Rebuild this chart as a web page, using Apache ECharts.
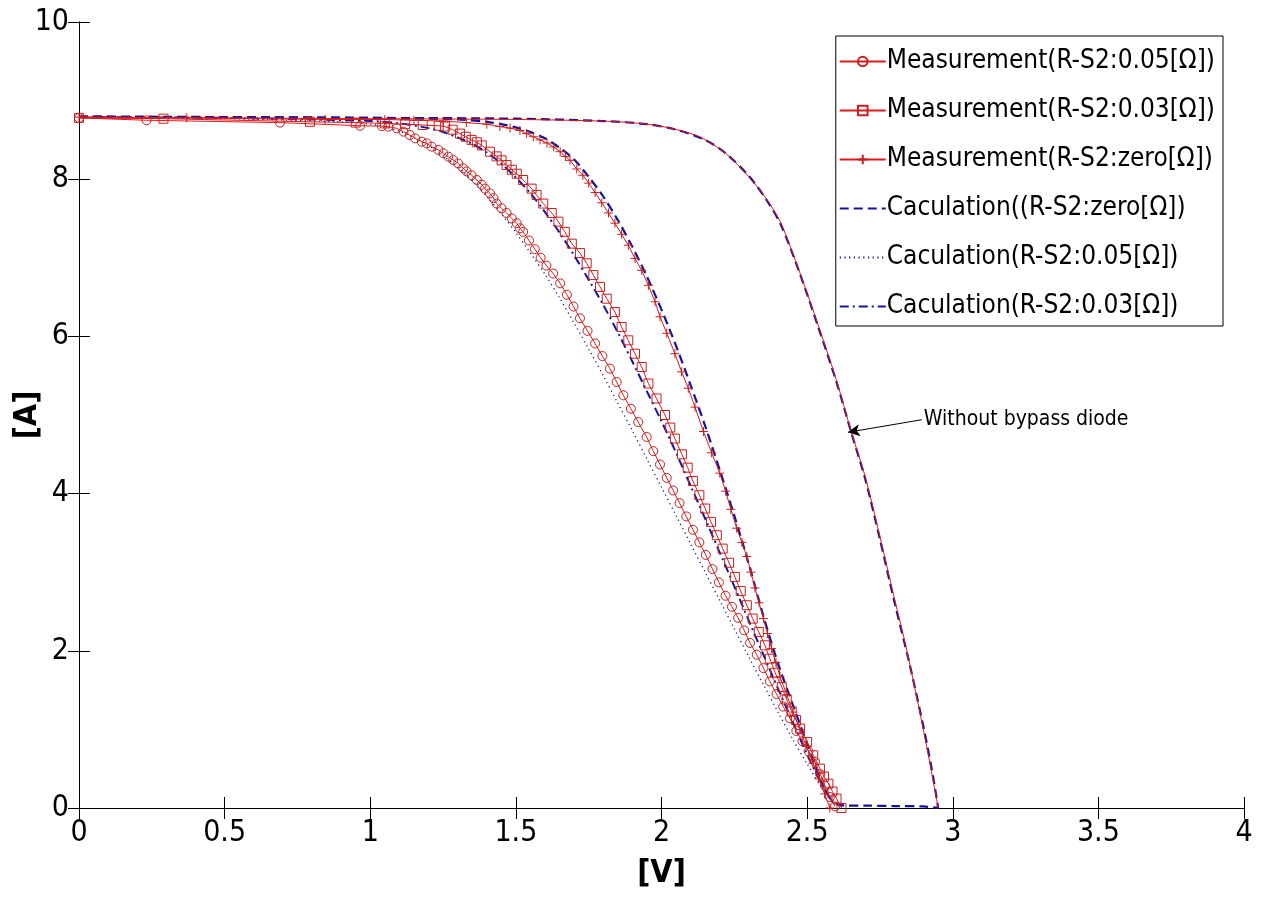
<!DOCTYPE html>
<html>
<head>
<meta charset="utf-8">
<script src="https://cdn.jsdelivr.net/npm/echarts@6/dist/echarts.min.js"></script>
<style>
html,body{margin:0;padding:0;background:#fff;}
#chart{width:1281px;height:907px;}
</style>
</head>
<body>
<div id="chart"></div>
<script>
// ---------------- data (V, A) ----------------
const seriesNames = [
  'Measurement(R-S2:0.05[Ω])',
  'Measurement(R-S2:0.03[Ω])',
  'Measurement(R-S2:zero[Ω])',
  'Caculation((R-S2:zero[Ω])',
  'Caculation(R-S2:0.05[Ω])',
  'Caculation(R-S2:0.03[Ω])'
];
const annotationText = 'Without bypass diode';

const meas005 = [[0,8.78],[0.232,8.75],[0.69,8.72],[0.965,8.68],[1.04,8.675],[1.062,8.668],[1.091,8.647],[1.114,8.605],[1.136,8.562],[1.154,8.52],[1.177,8.477],[1.194,8.456],[1.211,8.414],[1.234,8.372],[1.251,8.33],[1.268,8.287],[1.285,8.244],[1.302,8.2],[1.319,8.14],[1.331,8.1],[1.348,8.05],[1.366,7.99],[1.383,7.93],[1.394,7.88],[1.411,7.82],[1.423,7.76],[1.434,7.69],[1.451,7.63],[1.468,7.57],[1.486,7.5],[1.503,7.44],[1.514,7.375],[1.525,7.33],[1.545,7.22],[1.565,7.11],[1.585,7.0],[1.605,6.9],[1.628,6.8],[1.652,6.675],[1.675,6.53],[1.698,6.38],[1.72,6.23],[1.746,6.07],[1.772,5.91],[1.797,5.75],[1.823,5.59],[1.846,5.42],[1.869,5.25],[1.895,5.08],[1.92,4.91],[1.949,4.72],[1.972,4.54],[1.995,4.37],[2.018,4.2],[2.04,4.04],[2.062,3.88],[2.085,3.71],[2.108,3.54],[2.13,3.38],[2.152,3.22],[2.175,3.04],[2.197,2.87],[2.22,2.7],[2.242,2.56],[2.263,2.42],[2.284,2.26],[2.304,2.1],[2.327,1.95],[2.35,1.78],[2.372,1.61],[2.395,1.45],[2.418,1.29],[2.441,1.14],[2.463,0.98],[2.484,0.85],[2.505,0.72],[2.527,0.59],[2.545,0.43],[2.562,0.28],[2.578,0.14],[2.596,0.02]];

const meas003 = [[0,8.78],[0.29,8.77],[0.793,8.73],[0.95,8.72],[1.05,8.71],[1.12,8.7],[1.18,8.69],[1.235,8.68],[1.257,8.67],[1.283,8.63],[1.308,8.58],[1.328,8.54],[1.348,8.5],[1.366,8.47],[1.383,8.43],[1.411,8.35],[1.434,8.29],[1.451,8.24],[1.468,8.18],[1.486,8.12],[1.503,8.07],[1.525,7.99],[1.554,7.88],[1.571,7.8],[1.594,7.69],[1.623,7.57],[1.646,7.46],[1.668,7.33],[1.692,7.18],[1.72,7.06],[1.743,6.93],[1.766,6.78],[1.789,6.63],[1.812,6.48],[1.84,6.31],[1.863,6.12],[1.886,5.95],[1.909,5.78],[1.932,5.61],[1.955,5.4],[1.983,5.21],[2.012,5.0],[2.03,4.84],[2.046,4.7],[2.07,4.5],[2.09,4.33],[2.108,4.16],[2.13,3.98],[2.15,3.81],[2.17,3.64],[2.19,3.47],[2.21,3.3],[2.232,3.12],[2.252,2.94],[2.272,2.76],[2.293,2.58],[2.313,2.41],[2.334,2.24],[2.355,2.07],[2.372,1.9],[2.39,1.72],[2.413,1.54],[2.43,1.38],[2.447,1.23],[2.462,1.12],[2.476,1.01],[2.5,0.84],[2.521,0.67],[2.544,0.5],[2.558,0.4],[2.573,0.31],[2.587,0.21],[2.601,0.12],[2.618,0.0]];

const measZero = [[0,8.79],[0.37,8.78],[0.845,8.76],[1.05,8.76],[1.15,8.75],[1.25,8.74],[1.33,8.72],[1.4,8.7],[1.445,8.67],[1.48,8.65],[1.514,8.62],[1.537,8.58],[1.56,8.54],[1.583,8.5],[1.607,8.46],[1.63,8.41],[1.652,8.35],[1.67,8.29],[1.686,8.24],[1.709,8.13],[1.73,8.05],[1.75,7.95],[1.772,7.83],[1.795,7.7],[1.818,7.57],[1.84,7.44],[1.863,7.3],[1.886,7.16],[1.909,6.99],[1.932,6.84],[1.955,6.65],[1.978,6.44],[1.995,6.25],[2.018,6.04],[2.046,5.78],[2.069,5.55],[2.092,5.34],[2.115,5.1],[2.144,4.79],[2.172,4.52],[2.2,4.26],[2.22,4.03],[2.238,3.8],[2.258,3.56],[2.276,3.38],[2.293,3.2],[2.307,3.0],[2.321,2.8],[2.335,2.61],[2.35,2.41],[2.364,2.22],[2.378,2.03],[2.393,1.85],[2.407,1.67],[2.43,1.44],[2.452,1.22],[2.475,1.0],[2.497,0.79],[2.52,0.57],[2.54,0.37],[2.56,0.18],[2.578,0.0]];

const calcZero = [[0,8.79],[0.5,8.79],[1.0,8.78],[1.2,8.77],[1.3,8.76],[1.4,8.73],[1.45,8.7],[1.5,8.66],[1.55,8.6],[1.6,8.52],[1.65,8.4],[1.7,8.25],[1.75,8.03],[1.8,7.78],[1.85,7.48],[1.9,7.14],[1.95,6.76],[2.0,6.34],[2.05,5.88],[2.1,5.38],[2.15,4.86],[2.2,4.3],[2.25,3.72],[2.3,3.1],[2.35,2.44],[2.4,1.84],[2.45,1.32],[2.5,0.82],[2.55,0.32],[2.58,0.12],[2.6,0.06],[2.63,0.03],[2.7,0.03],[2.8,0.025],[2.9,0.02],[2.95,0]];

const calc005 = [[0,8.79],[0.5,8.77],[0.9,8.73],[1.0,8.7],[1.05,8.67],[1.1,8.61],[1.15,8.53],[1.2,8.43],[1.25,8.3],[1.3,8.15],[1.35,7.98],[1.4,7.78],[1.45,7.56],[1.5,7.32],[1.55,7.06],[1.6,6.79],[1.65,6.49],[1.7,6.17],[1.75,5.84],[1.8,5.5],[1.85,5.15],[1.9,4.8],[1.95,4.44],[2.0,4.08],[2.05,3.72],[2.1,3.36],[2.15,3.0],[2.2,2.64],[2.25,2.28],[2.3,1.92],[2.35,1.57],[2.4,1.22],[2.45,0.88],[2.5,0.56],[2.55,0.26],[2.58,0.1],[2.6,0.04],[2.62,0.02]];

const calc003 = [[0,8.79],[0.5,8.78],[1.0,8.74],[1.1,8.71],[1.2,8.65],[1.25,8.6],[1.3,8.53],[1.35,8.45],[1.4,8.34],[1.45,8.2],[1.5,8.02],[1.55,7.82],[1.6,7.58],[1.65,7.32],[1.7,7.03],[1.75,6.72],[1.8,6.4],[1.85,6.05],[1.9,5.68],[1.95,5.3],[2.0,4.92],[2.05,4.52],[2.1,4.1],[2.15,3.68],[2.2,3.25],[2.25,2.82],[2.3,2.38],[2.35,1.95],[2.4,1.52],[2.45,1.1],[2.5,0.68],[2.55,0.3],[2.58,0.12],[2.6,0.05],[2.62,0.03]];

const measNoBypass = [[0,8.79],[0.5,8.78],[1.0,8.77],[1.5,8.76],[1.79,8.74],[1.926,8.71],[2.03,8.65],[2.13,8.54],[2.22,8.33],[2.3,8.03],[2.36,7.75],[2.41,7.44],[2.475,6.81],[2.54,6.12],[2.6,5.45],[2.653,4.77],[2.699,4.22],[2.75,3.45],[2.8,2.66],[2.842,2.01],[2.9,0.98],[2.95,0]];

const calcNoBypass = [[0,8.8],[0.5,8.79],[1.0,8.78],[1.5,8.77],[1.8,8.74],[1.95,8.7],[2.05,8.63],[2.15,8.5],[2.22,8.33],[2.3,8.04],[2.36,7.74],[2.41,7.42],[2.475,6.8],[2.54,6.1],[2.6,5.43],[2.653,4.76],[2.7,4.18],[2.75,3.42],[2.8,2.62],[2.85,1.86],[2.9,1.02],[2.93,0.45],[2.95,0]];

// annotation: text anchor point and arrow tip in data units
const annotStart = [2.894, 4.94];
const annotTip = [2.64, 4.78];

// ---------------- styles ----------------
const FONT = "'Liberation Sans Narrow','DejaVu Sans Condensed','Arial Narrow',sans-serif";
const RED = '#e01818';
const RED_MK = '#c42020';
const BLUE = '#14149a';
const PLUS = 'path://M5,0L5,10M0,5L10,5';

function measSeries(name, data, symbol, size) {
  return {
    name: name, type: 'line', data: data,
    symbol: symbol, symbolSize: size, showAllSymbol: true,
    lineStyle: { color: RED, width: 1 },
    itemStyle: { color: 'rgba(255,255,255,0)', borderColor: RED_MK, borderWidth: 1 },
    emphasis: { disabled: true }, animation: false, z: 3
  };
}
function calcSeries(name, data, dash, width) {
  return {
    name: name, type: 'line', data: data, symbol: 'none', smooth: 0.3,
    lineStyle: { color: BLUE, width: width, type: dash },
    itemStyle: { color: BLUE },
    emphasis: { disabled: true }, animation: false, z: 2
  };
}

const chart = echarts.init(document.getElementById('chart'), null, { renderer: 'canvas' });

const axisCommon = {
  type: 'value',
  axisLine: { show: true, lineStyle: { color: '#000', width: 1 } },
  axisTick: { show: true, inside: true, length: 11, lineStyle: { color: '#000' } },
  splitLine: { show: false }
};

const legendData = seriesNames.map(function (n, i) {
  return i < 3 ? { name: n } : { name: n, itemStyle: { opacity: 0 } };
});

const option = {
  backgroundColor: '#fff',
  animation: false,
  grid: { left: 79, right: 37, top: 22, bottom: 99, containLabel: false, outerBoundsMode: 'none' },
  legend: {
    data: legendData,
    orient: 'vertical',
    right: 58, top: 36,
    backgroundColor: '#fff',
    borderColor: '#000', borderWidth: 1, borderRadius: 0,
    padding: [7, 8, 1, 3],
    itemWidth: 46, itemHeight: 12, itemGap: 12,
    selectedMode: false,
    textStyle: { fontFamily: FONT, fontSize: 26, color: '#000', lineHeight: 37, padding: [0, 0, 0, -4] }
  },
  xAxis: [
    Object.assign({}, axisCommon, {
      min: 0, max: 4, interval: 0.5, position: 'bottom',
      axisLabel: { fontFamily: FONT, fontSize: 30, color: '#000', margin: 10 },
      name: '[V]', nameLocation: 'middle', nameGap: 50, nameMoveOverlap: false,
      nameTextStyle: { fontFamily: FONT, fontSize: 32, fontWeight: 'bold', color: '#000' }
    }),
    Object.assign({}, axisCommon, {
      min: 0, max: 4, interval: 0.5, position: 'top', axisLabel: { show: false }
    })
  ],
  yAxis: [
    Object.assign({}, axisCommon, {
      min: 0, max: 10, interval: 2, position: 'left',
      axisLabel: { fontFamily: FONT, fontSize: 30, color: '#000', margin: 10 },
      name: '[A]', nameLocation: 'middle', nameGap: 35, nameRotate: 90, nameMoveOverlap: false,
      nameTextStyle: { fontFamily: FONT, fontSize: 32, fontWeight: 'bold', color: '#000' }
    }),
    Object.assign({}, axisCommon, {
      min: 0, max: 10, interval: 2, position: 'right', axisLabel: { show: false }
    })
  ],
  series: [
    calcSeries(seriesNames[3], calcZero, [9, 5], 2.2),
    calcSeries(seriesNames[4], calc005, [1.2, 3.5], 1.3),
    calcSeries(seriesNames[5], calc003, [9, 4, 2, 4], 2),
    calcSeries('calc-no-bypass', calcNoBypass, [9, 5], 2.2),
    measSeries(seriesNames[0], meas005, 'circle', 9),
    measSeries(seriesNames[1], meas003, 'rect', 9),
    measSeries(seriesNames[2], measZero, PLUS, 9),
    {
      name: 'meas-no-bypass', type: 'line', data: measNoBypass, symbol: 'none', smooth: 0.3,
      lineStyle: { color: RED, width: 1 }, emphasis: { disabled: true }, z: 4,
      markLine: {
        silent: true, symbol: ['none', 'arrow'], symbolSize: [9, 12],
        lineStyle: { color: '#000', width: 1, type: 'solid' },
        label: {
          show: true, position: 'start', formatter: annotationText,
          fontFamily: FONT, fontSize: 21, color: '#000', distance: 2
        },
        data: [[{ coord: annotStart }, { coord: annotTip }]]
      }
    }
  ]
};
chart.setOption(option);
</script>
</body>
</html>
